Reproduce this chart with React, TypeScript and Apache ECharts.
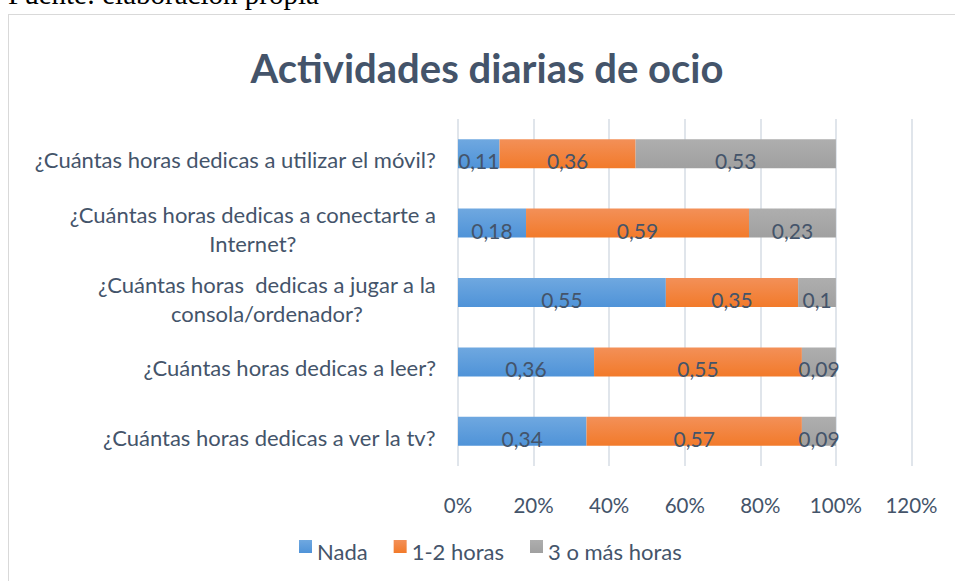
import React, { useEffect, useRef } from "react";
import * as echarts from "echarts";

const categories = [
  "¿Cuántas horas dedicas a utilizar el móvil?",
  "¿Cuántas horas dedicas a conectarte a\nInternet?",
  "¿Cuántas horas  dedicas a jugar a la\nconsola/ordenador?",
  "¿Cuántas horas dedicas a leer?",
  "¿Cuántas horas dedicas a ver la tv?",
];
const seriesNames = ["Nada", "1-2 horas", "3 o más horas"];
const nada = [0.11, 0.18, 0.55, 0.36, 0.34];
const unoDos = [0.36, 0.59, 0.35, 0.55, 0.57];
const tresMas = [0.53, 0.23, 0.1, 0.09, 0.09];
const xTicks = { min: 0, max: 1.2, interval: 0.2 };

const TEXT = "#44546A";
const FONT = "Lato";

const grad = (top: string, bottom: string) =>
  new echarts.graphic.LinearGradient(0, 0, 0, 1, [
    { offset: 0, color: top },
    { offset: 1, color: bottom },
  ]);

export default function App() {
  const ref = useRef<HTMLDivElement>(null);
  useEffect(() => {
    if (!ref.current) return;
    const chart = echarts.init(ref.current, undefined, { renderer: "svg" });
    const label = {
      show: true,
      position: "inside",
      offset: [0, 7],
      color: TEXT,
      fontFamily: FONT,
      fontSize: 21,
      formatter: (p: any) => String(p.value).replace(".", ","),
    };
    const colors = [
      grad("#6FA8E0", "#4F93D8"),
      grad("#F39058", "#F27A2A"),
      grad("#AEAEAE", "#A0A0A0"),
    ];
    const datas = [nada, unoDos, tresMas];
    chart.setOption({
      animation: false,
      title: {
        text: "Actividades diarias de ocio",
        left: 487,
        top: 48,
        padding: 0,
        textAlign: "center",
        textStyle: { fontFamily: FONT, fontWeight: "bold", fontSize: 40, color: TEXT },
      },
      legend: {
        data: seriesNames,
        left: 299,
        top: 540,
        padding: 0,
        itemWidth: 13,
        itemHeight: 13,
        itemGap: 26,
        icon: "rect",
        formatter: (name: string) => `{a|${name}}`,
        textStyle: {
          fontFamily: FONT,
          fontSize: 22,
          color: TEXT,
          rich: {
            a: { fontFamily: FONT, fontSize: 22, color: TEXT, padding: [10, 0, 0, 0] },
          },
        },
      },
      grid: { left: 458, right: 43.5, top: 119, bottom: 115, containLabel: false },
      xAxis: {
        type: "value",
        min: xTicks.min,
        max: xTicks.max,
        interval: xTicks.interval,
        axisLine: { show: false },
        axisTick: { show: false },
        splitLine: { show: true, lineStyle: { color: "#D6DCE4", width: 1.5 } },
        axisLabel: {
          margin: 28,
          color: TEXT,
          fontFamily: FONT,
          fontSize: 20.5,
          formatter: (v: number) => Math.round(v * 100) + "%",
        },
      },
      yAxis: {
        type: "category",
        data: categories,
        inverse: true,
        axisLine: { show: false },
        axisTick: { show: false },
        axisLabel: {
          margin: 22,
          padding: [12, 0, 0, 0],
          formatter: (v: string) =>
            v
              .split("\n")
              .map((l) => `{c|${l}}`)
              .join("\n"),
          rich: {
            c: { align: "center", fontFamily: FONT, fontSize: 22, color: TEXT, lineHeight: 29 },
          },
        },
      },
      series: seriesNames.map((name, i) => ({
        name,
        type: "bar",
        stack: "total",
        barWidth: 29,
        data: datas[i],
        itemStyle: { color: colors[i] },
        label,
      })),
    });
    return () => chart.dispose();
  }, []);

  return (
    <div
      style={{
        position: "fixed",
        left: 0,
        top: 0,
        width: 955,
        height: 581,
        overflow: "hidden",
        background: "#fff",
      }}
    >
      <span
        style={{
          position: "absolute",
          left: 8,
          top: -20,
          fontFamily: "'Liberation Serif', 'Times New Roman', serif",
          fontSize: 29,
          lineHeight: "29px",
          whiteSpace: "nowrap",
          color: "#000",
        }}
      >
        Fuente: elaboración propia
      </span>
      <div
        style={{
          position: "absolute",
          left: 8,
          top: 14,
          width: 1000,
          height: 1000,
          border: "1px solid #D9D9D9",
          boxSizing: "border-box",
        }}
      />
      <div ref={ref} style={{ position: "absolute", left: 0, top: 0, width: 955, height: 581 }} />
    </div>
  );
}
